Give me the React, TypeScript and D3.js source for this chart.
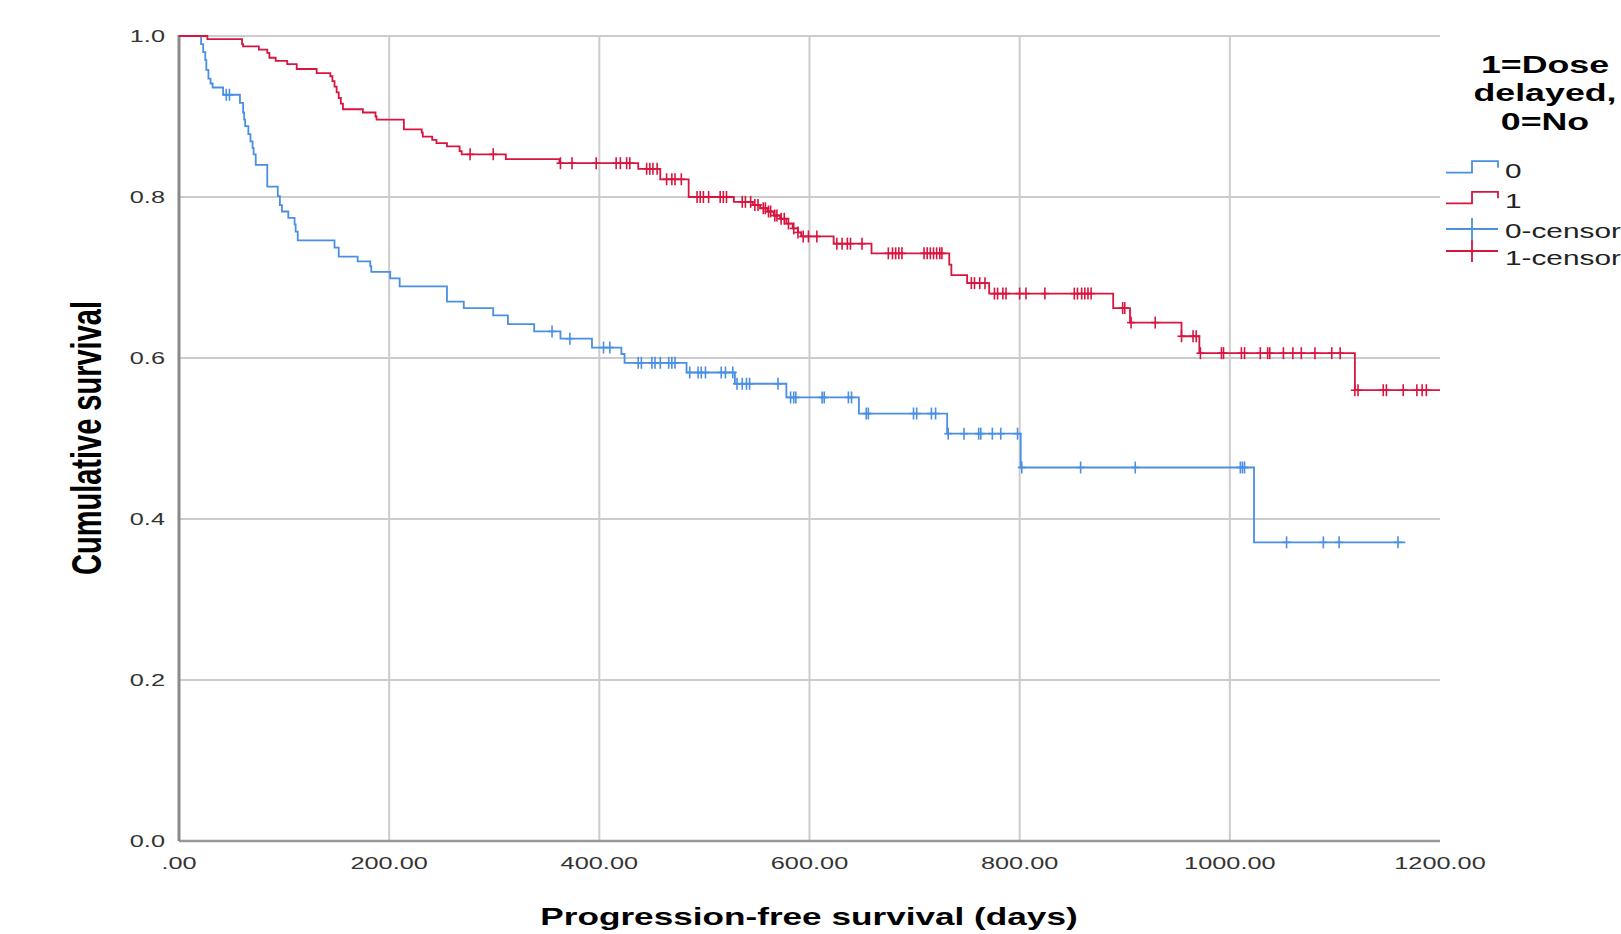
import React from "react";
import * as d3 from "d3";

const W = 1621;
const H = 934;
// the source image is stretched horizontally, so text gets the same stretch
const STRETCH = 1.49;
const FONT = "'Liberation Sans', Arial, sans-serif";

const xTicks = [0, 200, 400, 600, 800, 1000, 1200];
const yTicks = [0, 0.2, 0.4, 0.6, 0.8, 1.0];
const xGrid = [200, 400, 600, 800, 1000];
const yGrid = [0.2, 0.4, 0.6, 0.8, 1.0];

// group 0 (no delay): [day, survival after the event]
const steps0: [number, number][] = [
  [21, 0.990], [23, 0.980], [25, 0.970], [26, 0.958], [28, 0.947], [30, 0.941],
  [32, 0.936], [42, 0.927], [58, 0.917], [61, 0.905], [62, 0.896], [63, 0.888],
  [66, 0.878], [68, 0.869], [70, 0.861], [71, 0.853], [73, 0.840], [84, 0.813],
  [94, 0.801], [96, 0.790], [98, 0.782], [104, 0.774], [110, 0.766], [111, 0.757],
  [113, 0.746], [148, 0.737], [152, 0.726], [170, 0.720], [182, 0.714], [183, 0.707],
  [201, 0.699], [210, 0.689], [255, 0.670], [271, 0.662], [299, 0.653], [313, 0.642],
  [338, 0.633], [363, 0.624], [393, 0.613], [421, 0.605], [424, 0.594], [483, 0.582],
  [529, 0.568], [578, 0.551], [647, 0.531], [731, 0.506], [801, 0.464], [1023, 0.371],
];
const censored0 = [
  45, 48, 355, 372, 404, 410, 437, 440, 450, 453, 458, 466, 469, 472, 486, 494, 497,
  501, 516, 520, 527, 531, 536, 540, 543, 570, 582, 585, 587, 612, 614, 637, 640,
  654, 656, 699, 702, 716, 720, 732, 747, 761, 763, 774, 782, 798, 802, 858, 910,
  1010, 1012, 1014, 1054, 1089, 1104, 1160,
];
const end0 = 1167;

// group 1 (dose delayed)
const steps1: [number, number][] = [
  [27, 0.996], [60, 0.990], [61, 0.987], [76, 0.983], [84, 0.979], [86, 0.973],
  [92, 0.969], [103, 0.965], [112, 0.959], [131, 0.954], [144, 0.950], [146, 0.944],
  [148, 0.937], [150, 0.930], [152, 0.923], [154, 0.916], [156, 0.909], [175, 0.905],
  [187, 0.900], [188, 0.896], [214, 0.884], [231, 0.880], [232, 0.875], [241, 0.871],
  [245, 0.867], [255, 0.863], [267, 0.857], [269, 0.853], [311, 0.847], [362, 0.842],
  [437, 0.835], [458, 0.822], [485, 0.800], [528, 0.794], [546, 0.790], [553, 0.786],
  [560, 0.782], [566, 0.777], [572, 0.773], [578, 0.767], [584, 0.761], [589, 0.756],
  [592, 0.751], [623, 0.742], [659, 0.730], [733, 0.716], [735, 0.703], [750, 0.693],
  [771, 0.680], [889, 0.662], [905, 0.644], [954, 0.627], [971, 0.606], [1119, 0.560],
];
const censored1 = [
  277, 299, 363, 374, 397, 416, 420, 426, 429, 445, 448, 451, 455, 464, 469, 472, 478,
  493, 496, 499, 504, 515, 518, 521, 536, 539, 544, 548, 551, 556, 558, 561, 563, 567,
  569, 573, 576, 580, 585, 589, 594, 599, 607, 626, 631, 636, 639, 650, 675, 679, 682,
  685, 688, 709, 712, 715, 718, 721, 724, 726, 754, 757, 762, 767, 776, 779, 784, 787,
  800, 806, 824, 852, 855, 859, 862, 865, 868, 898, 900, 906, 929, 954, 965, 968, 972,
  992, 994, 1011, 1014, 1029, 1036, 1038, 1051, 1060, 1068, 1081, 1097, 1105, 1119,
  1122, 1146, 1149, 1165, 1178, 1183, 1187,
];
const end1 = 1200;

const legendTitle = ["1=Dose", "delayed,", "0=No"];
const legendLabels = ["0", "1", "0-censored", "1-censored"];
const colors = ["#4a8fe2", "#d8153f"];

const x = d3.scaleLinear().domain([0, 1200]).range([179, 1440]);
const y = d3.scaleLinear().domain([0, 1]).range([841, 36]);

const series = [
  {steps: steps0, censored: censored0, end: end0, color: colors[0]},
  {steps: steps1, censored: censored1, end: end1, color: colors[1]},
];

function survAt(steps: [number, number][], t: number) {
  const i = d3.bisector((d: [number, number]) => d[0]).right(steps, t) - 1;
  return i < 0 ? 1 : steps[i][1];
}

function STxt({x, y, size, anchor = "start", weight = "normal", fill = "#000", rotate = 0, dy, children}: any) {
  const tf = `translate(${x},${y}) scale(${STRETCH},1)` + (rotate ? ` rotate(${rotate})` : "");
  return (
    <text transform={tf} textAnchor={anchor} fontSize={size} fontWeight={weight}
      fill={fill} fontFamily={FONT} dy={dy}>
      {children}
    </text>
  );
}

const fmtX = (v: number) => d3.format(".2f")(v).replace(/^0\./, ".");
const fmtY = d3.format(".1f");

export default function App() {
  const line = d3.line<[number, number]>()
    .x(d => x(d[0]))
    .y(d => y(d[1]))
    .curve(d3.curveStepAfter);

  return (
    <svg width={W} height={H} style={{position: "absolute", left: 0, top: 0, background: "#fff"}}>
      {/* grid */}
      <g stroke="#cccccc" strokeWidth={2}>
        {yGrid.map(v => <line key={"h" + v} x1={x(0)} x2={x(1200)} y1={y(v)} y2={y(v)} />)}
        {xGrid.map(v => <line key={"v" + v} x1={x(v)} x2={x(v)} y1={y(0)} y2={y(1)} />)}
      </g>
      {/* axes */}
      <line x1={x(0)} x2={x(1200)} y1={y(0)} y2={y(0)} stroke="#999" strokeWidth={2.5} />
      <line x1={x(0)} x2={x(0)} y1={y(0)} y2={y(1) - 1} stroke="#8a8a8a" strokeWidth={3} />

      {/* tick labels */}
      {yTicks.map(v => (
        <STxt key={"yt" + v} x={165} y={y(v) + 6} size={17} anchor="end" fill="#333">{fmtY(v)}</STxt>
      ))}
      {xTicks.map(v => (
        <STxt key={"xt" + v} x={x(v)} y={869} size={17} anchor="middle" fill="#333">{fmtX(v)}</STxt>
      ))}

      {/* axis titles */}
      <STxt x={85} y={438} size={29} weight="bold" anchor="middle" rotate={-90} dy="0.36em">
        Cumulative survival
      </STxt>
      <STxt x={809} y={925} size={23.6} weight="bold" anchor="middle">
        Progression-free survival (days)
      </STxt>

      {/* survival curves */}
      {series.map((s, i) => {
        const pts: [number, number][] = [[0, 1], ...s.steps, [s.end, s.steps[s.steps.length - 1][1]]];
        return (
          <g key={"s" + i}>
            <path d={line(pts) ?? ""} fill="none" stroke={s.color} strokeWidth={1.8} />
            <g stroke={s.color} strokeWidth={1.6}>
              {s.censored.map((t, j) => {
                const cx = x(t);
                const cy = y(survAt(s.steps, t));
                return (
                  <g key={j}>
                    <line x1={cx} x2={cx} y1={cy - 6} y2={cy + 6} />
                    <line x1={cx - 4} x2={cx + 4} y1={cy} y2={cy} />
                  </g>
                );
              })}
            </g>
          </g>
        );
      })}

      {/* legend */}
      {legendTitle.map((t, i) => (
        <STxt key={"lt" + i} x={1545} y={72.5 + i * 28.5} size={24} weight="bold" anchor="middle">{t}</STxt>
      ))}
      {[0, 1].map(i => {
        const base = [172.7, 203.3][i];
        return (
          <path key={"li" + i}
            d={`M1446,${base}H1472V${base - 11.5}H1498V${base - 5}`}
            fill="none" stroke={colors[i]} strokeWidth={1.8} />
        );
      })}
      {[0, 1].map(i => {
        const cy = [229, 251][i];
        return (
          <g key={"lc" + i} stroke={colors[i]} strokeWidth={1.8}>
            <line x1={1446} x2={1498} y1={cy} y2={cy} />
            <line x1={1472} x2={1472} y1={cy - 11} y2={cy + 11} />
          </g>
        );
      })}
      {legendLabels.map((t, i) => (
        <STxt key={"ll" + i} x={1505} y={[178, 208, 238, 265][i]} size={20} fill="#222">{t}</STxt>
      ))}
    </svg>
  );
}
